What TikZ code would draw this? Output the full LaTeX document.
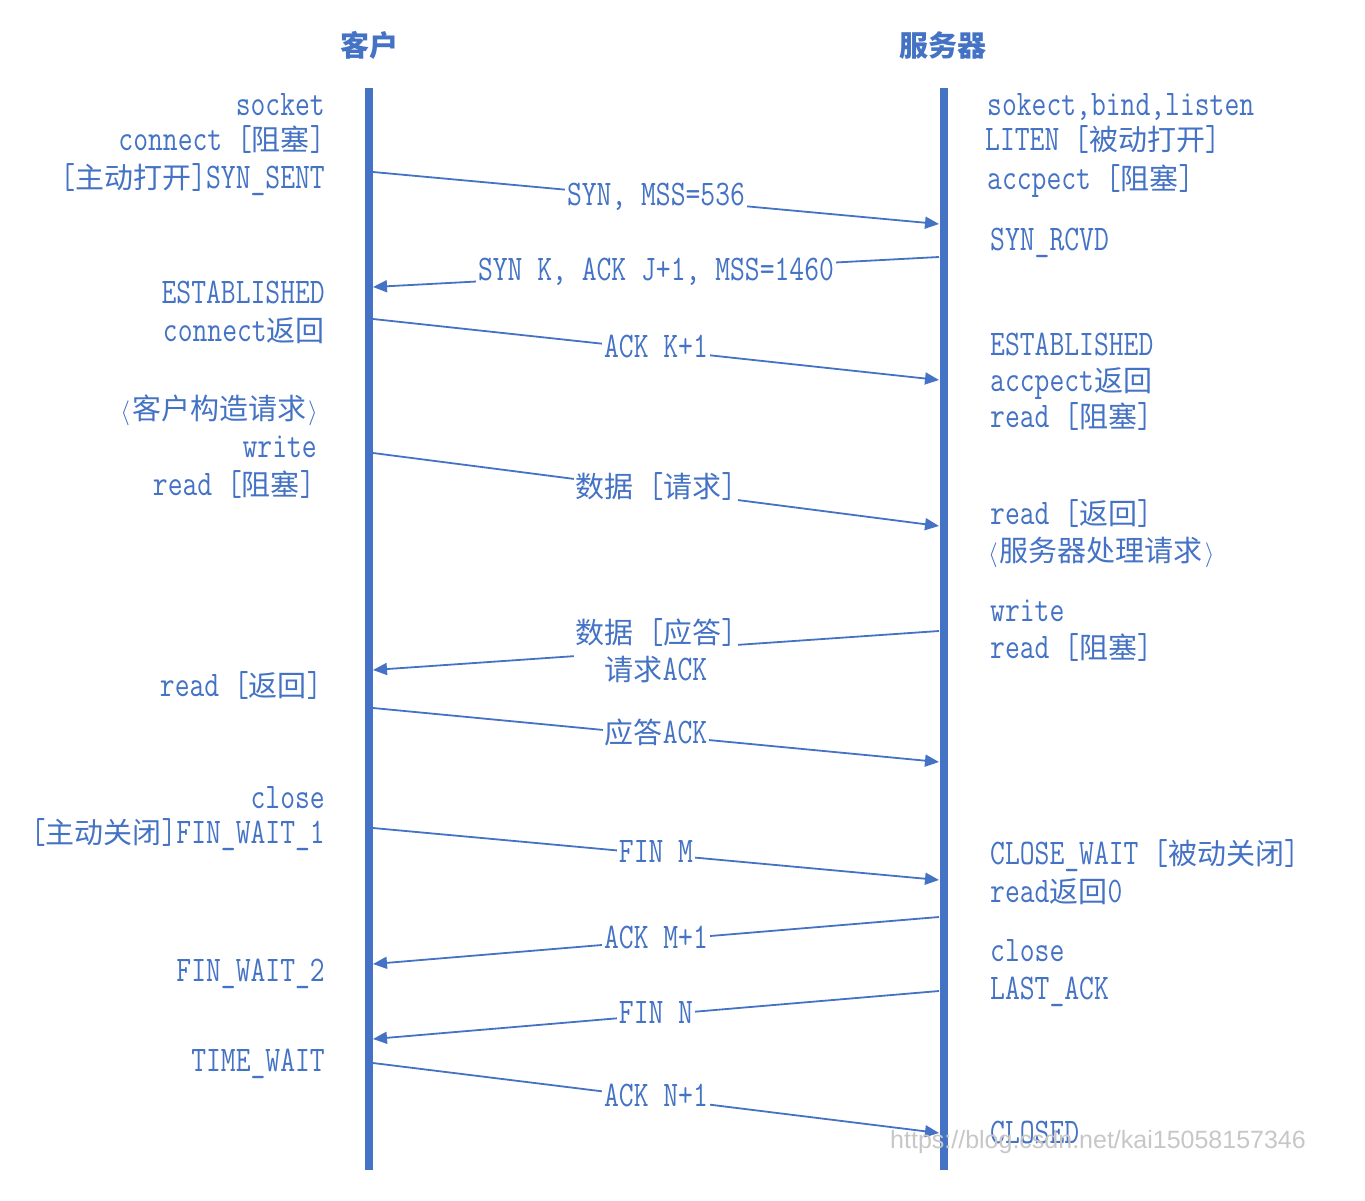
\documentclass[tikz,border=0pt]{standalone}
\usepackage{fontspec}
\setmainfont{Latin Modern Mono}[FakeStretch=0.8]
\newfontfamily\cjk{Noto Sans CJK SC}
\newfontfamily\wmfont{Liberation Sans}
\usetikzlibrary{arrows.meta}

\definecolor{lineblue}{HTML}{4472C4}
\newcommand{\zh}[1]{{\cjk\fontsize{29}{37}\selectfont #1}}
\newcommand{\latin}{\fontsize{36}{37}\selectfont}
\newcommand{\lang}{\ensuremath{\big\langle}\kern2pt}
\newcommand{\rang}{\kern2pt\ensuremath{\big\rangle}}

\tikzset{
  lifeline/.style={draw=lineblue, line width=8pt},
  msg/.style={draw=lineblue, line width=1.8pt, -{Triangle[length=14pt,width=12pt]}},
  lblbase/.style={fill=white, inner sep=2pt, text=lineblue, font=\latin},
  lbl/.style={lblbase, text height=22pt, text depth=6pt},
  lstate/.style={anchor=east, inner sep=0pt, text=lineblue, font=\latin, text height=22pt, text depth=0pt},
  rstate/.style={anchor=west, inner sep=0pt, text=lineblue, font=\latin, text height=22pt, text depth=0pt},
  side/.style={text=lineblue, font=\cjk\bfseries\fontsize{29}{32}\selectfont},
  wmark/.style={text=black!22, font=\wmfont\fontsize{25}{30}\selectfont}
}

\begin{document}
\begin{tikzpicture}[x=1pt, y=-1pt]
  \useasboundingbox (0,0) rectangle (1365,1201);

  % the two ends
  \node[side] (cli) at (369,45) {客户};
  \node[side] (srv) at (943,45) {服务器};
  \coordinate (cliTop) at (369,88);
  \coordinate (cliBot) at (369,1170);
  \coordinate (srvTop) at (943.5,88);
  \coordinate (srvBot) at (943.5,1170);
  \draw[lifeline] (cliTop) -- (cliBot);
  \draw[lifeline] (srvTop) -- (srvBot);

  % client states
  \node[lstate] (l1)  at (325,105)  {socket};
  \node[lstate] (l2)  at (325,140)  {connect [\zh{阻塞}]};
  \node[lstate] (l3)  at (325,178)  {[\zh{主动打开}]SYN\_SENT};
  \node[lstate] (l4)  at (325,292)  {ESTABLISHED};
  \node[lstate] (l5)  at (325,330)  {connect\zh{返回}};
  \node[lstate] (l6)  at (318,408)  {\lang\zh{客户构造请求}\rang};
  \node[lstate] (l7)  at (317,446)  {write};
  \node[lstate] (l8)  at (315,484)  {read [\zh{阻塞}]};
  \node[lstate] (l9)  at (322,685)  {read [\zh{返回}]};
  \node[lstate] (l10) at (325,797)  {close};
  \node[lstate] (l11) at (325,832)  {[\zh{主动关闭}]FIN\_WAIT\_1};
  \node[lstate] (l12) at (325,970)  {FIN\_WAIT\_2};
  \node[lstate] (l13) at (325,1060) {TIME\_WAIT};

  % server states
  \node[rstate] (r1)  at (987,105)  {sokect,bind,listen};
  \node[rstate] (r2)  at (985,140)  {LITEN [\zh{被动打开}]};
  \node[rstate] (r3)  at (987,179)  {accpect [\zh{阻塞}]};
  \node[rstate] (r4)  at (990,239)  {SYN\_RCVD};
  \node[rstate] (r5)  at (990,344)  {ESTABLISHED};
  \node[rstate] (r6)  at (990,380)  {accpect\zh{返回}};
  \node[rstate] (r7)  at (990,416)  {read [\zh{阻塞}]};
  \node[rstate] (r8)  at (990,513)  {read [\zh{返回}]};
  \node[rstate] (r9)  at (988,550)  {\lang\zh{服务器处理请求}\rang};
  \node[rstate] (r10) at (990,610)  {write};
  \node[rstate] (r11) at (990,647)  {read [\zh{阻塞}]};
  \node[rstate] (r12) at (990,853)  {CLOSE\_WAIT [\zh{被动关闭}]};
  \node[rstate] (r13) at (990,891)  {read\zh{返回}0};
  \node[rstate] (r14) at (990,950)  {close};
  \node[rstate] (r15) at (990,988)  {LAST\_ACK};
  \node[rstate] (r16) at (990,1132) {CLOSED};

  % message ends on the lifelines
  \coordinate (c1) at (373,172);  \coordinate (s1) at (939,224);
  \coordinate (s2) at (939,257);  \coordinate (c2) at (373,287);
  \coordinate (c3) at (373,319);  \coordinate (s3) at (939,380);
  \coordinate (c4) at (373,453);  \coordinate (s4) at (939,526);
  \coordinate (s5) at (939,631);  \coordinate (c5) at (373,670);
  \coordinate (c6) at (373,708);  \coordinate (s6) at (939,762);
  \coordinate (c7) at (373,828);  \coordinate (s7) at (939,880);
  \coordinate (s8) at (939,917);  \coordinate (c8) at (373,964);
  \coordinate (s9) at (939,991);  \coordinate (c9) at (373,1039);
  \coordinate (c10) at (373,1063); \coordinate (s10) at (939,1133);

  % messages
  \draw[msg] (c1) -- node[lbl] (m1) {SYN, MSS=536} (s1);
  \draw[msg] (s2) -- node[lbl] (m2) {SYN K, ACK J+1, MSS=1460} (c2);
  \draw[msg] (c3) -- node[lbl] (m3) {ACK K+1} (s3);
  \draw[msg] (c4) -- node[lbl] (m4) {\zh{数据} [\zh{请求}]} (s4);
  \draw[msg] (s5) -- node[lblbase, align=center] (m5) {\zh{数据} [\zh{应答}]\\\zh{请求}ACK} (c5);
  \draw[msg] (c6) -- node[lbl] (m6) {\zh{应答}ACK} (s6);
  \draw[msg] (c7) -- node[lbl] (m7) {FIN M} (s7);
  \draw[msg] (s8) -- node[lbl] (m8) {ACK M+1} (c8);
  \draw[msg] (s9) -- node[lbl] (m9) {FIN N} (c9);
  \draw[msg] (c10) -- node[lbl] (m10) {ACK N+1} (s10);

  \node[wmark] (wm) at (1098,1142) {https://blog.csdn.net/kai15058157346};
\end{tikzpicture}
\end{document}
